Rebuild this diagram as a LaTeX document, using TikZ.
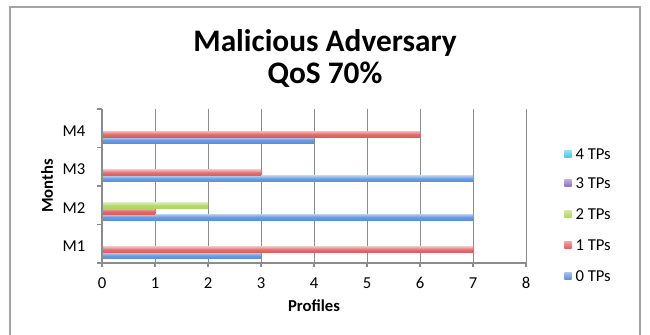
\documentclass[tikz,border=0pt]{standalone}
\usepackage{fontspec}
\setmainfont{Carlito}
\usetikzlibrary{positioning}

\definecolor{tpzero}{HTML}{5A8EDC}
\definecolor{tpone}{HTML}{E05A5C}
\definecolor{tptwo}{HTML}{ADD65E}
\definecolor{tpthree}{HTML}{8E6CC0}
\definecolor{tpfour}{HTML}{45C6E6}
\definecolor{gridgray}{HTML}{8C8C8C}

\begin{document}
\begin{tikzpicture}[x=0.75pt,y=-0.75pt,
    frame/.style={draw=gridgray!80,line width=1.1pt},
    grid line/.style={draw=gridgray,line width=0.6pt},
    axis line/.style={draw=gridgray,line width=0.8pt},
    tick label/.style={font=\fontsize{12.5}{14}\selectfont,inner sep=1pt},
    axis title/.style={font=\bfseries\fontsize{12.5}{14}\selectfont,inner sep=1pt},
    legend key/.style={minimum size=5.5pt,inner sep=0pt},
    legend text/.style={font=\fontsize{12.5}{14}\selectfont,inner sep=1pt,anchor=west}]
  \useasboundingbox (0,0) rectangle (650,335);

  % outer frame, open at the bottom
  \draw[frame] (10,345) -- (10,7) -- (640,7) -- (640,345);

  % title
  \node[font=\bfseries\fontsize{23.5}{24}\selectfont,align=center] (title) at (325,58)
    {Malicious Adversary\\QoS 70\%};

  % vertical grid and profile ticks
  \foreach \v in {1,...,8}
    \draw[grid line] ({102+53*\v},109) -- ({102+53*\v},263);
  \foreach \v in {0,...,8} {
    \draw[axis line] ({102+53*\v},263) -- ({102+53*\v},267);
    \node[tick label] (px\v) at ({102+53*\v},283) {\v};
  }

  % bars: month/series/value
  \foreach \m/\s/\val/\col in {1/0/3/tpzero,1/1/7/tpone,
                               2/0/7/tpzero,2/1/1/tpone,2/2/2/tptwo,
                               3/0/7/tpzero,3/1/3/tpone,
                               4/0/4/tpzero,4/1/6/tpone} {
    \pgfmathsetmacro{\ybot}{263-38.5*(\m-1)-4.4-5.9*\s}
    \shade[top color=\col!45!white,bottom color=\col,middle color=\col!90!white]
      (102,\ybot) rectangle ({102+53*\val},{\ybot-5.9});
  }

  % axes
  \draw[axis line] (102,109) -- (102,263) -- (526,263);
  \foreach \m in {0,...,4}
    \draw[axis line] (97,{263-38.5*\m}) -- (102,{263-38.5*\m});
  \foreach \m in {1,...,4}
    \node[tick label,anchor=east] (m\m) at (87,{263-38.5*\m+22}) {M\m};

  % axis titles
  \node[axis title] (profiles) at (314,306) {Profiles};
  \node[axis title,rotate=90] (months) at (47,186) {Months};

  % legend
  \foreach \s/\col/\y in {4/tpfour/154,3/tpthree/183,2/tptwo/214,1/tpone/245,0/tpzero/276} {
    \node[legend key,top color=\col!55!white,bottom color=\col] (key\s) at (568,\y) {};
    \node[legend text,right=1.5pt of key\s] (lab\s) {\s{} TPs};
  }
\end{tikzpicture}
\end{document}
